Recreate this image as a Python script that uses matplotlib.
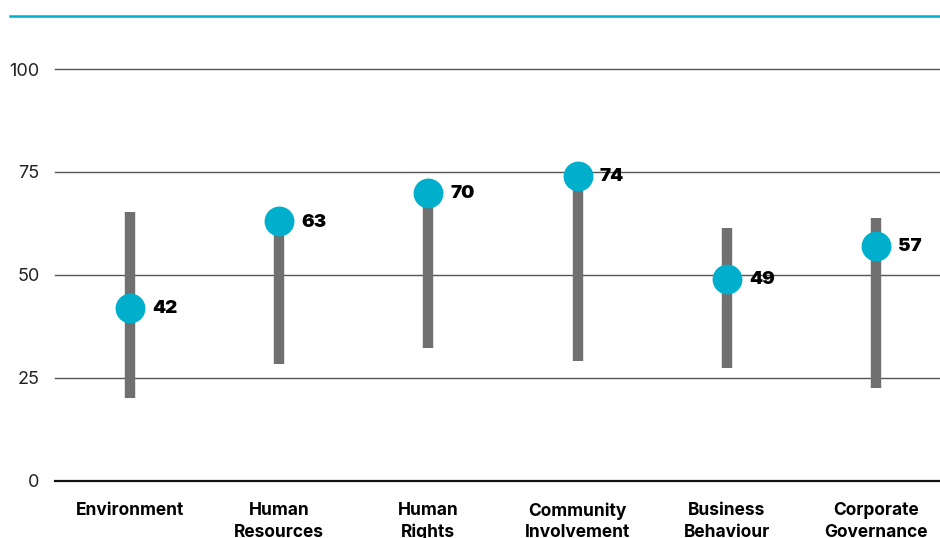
import matplotlib.pyplot as plt
from matplotlib.lines import Line2D

# scores per topic: low/high of the range and the company score
categories = ["Environment", "Human\nResources", "Human\nRights",
              "Community\nInvolvement", "Business\nBehaviour", "Corporate\nGovernance"]
range_low = [20, 28.4, 32.2, 29.1, 27.4, 22.4]
range_high = [65.2, 63, 70, 74, 61.5, 63.7]
scores = [42, 63, 70, 74, 49, 57]
y_ticks = [0, 25, 50, 75, 100]

cyan = "#00afcb"
grey = "#707070"

plt.rcParams['font.family'] = ['Inter', 'DejaVu Sans']

fig = plt.figure(figsize=(9.4, 5.38), dpi=100)
ax = fig.add_axes([55 / 940, (538 - 480.7) / 538, 885 / 940, (480.7 - 69) / 538])

# grid lines
for t in y_ticks:
    ax.axhline(t, color="#111111" if t == 0 else "#555555",
               lw=1.6 if t == 0 else 1.0, zorder=1)

x = range(len(categories))
ax.vlines(x, range_low, range_high, color=grey, lw=7.5, zorder=2)
ax.plot(x, scores, 'o', ms=21.5, color=cyan, mec='none', zorder=3)

for i, s in enumerate(scores):
    ax.annotate(str(s), (i, s), xytext=(16, -0.5), textcoords='offset points',
                ha='left', va='center', fontsize=13.5, fontweight='black',
                color='black', zorder=4)

ax.set_xlim(-0.503, 5.43)
ax.set_ylim(0, 100)
ax.set_yticks(y_ticks)
ax.set_yticklabels([str(t) for t in y_ticks], fontsize=13, color='#222222')
ax.set_xticks(list(x))
ax.set_xticklabels(categories, fontsize=12.5, fontweight='bold', linespacing=1.35,
                   va='top')
ax.tick_params(axis='y', length=0, pad=11)
ax.tick_params(axis='x', length=0, pad=15.5)
for sp in ax.spines.values():
    sp.set_visible(False)

# cyan rule across the top
fig.add_artist(Line2D([10 / 940, 1], [1 - 16 / 538, 1 - 16 / 538],
                      color=cyan, lw=1.8, transform=fig.transFigure))

for c in ax.get_children():
    if hasattr(c, 'set_clip_on'):
        c.set_clip_on(False)

plt.savefig('out.png', dpi=100)
